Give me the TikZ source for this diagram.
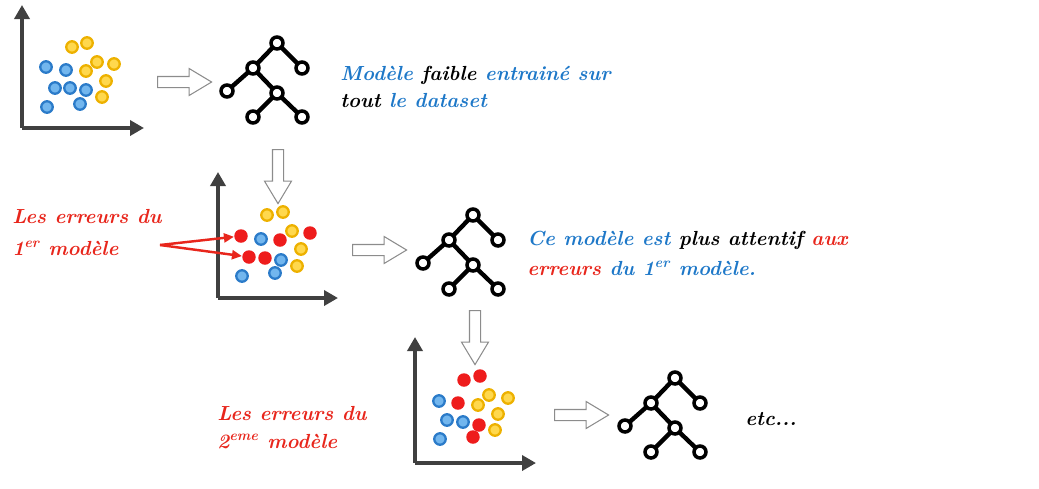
\documentclass[tikz,border=0pt]{standalone}
\usetikzlibrary{arrows.meta,shapes.arrows}

\definecolor{ptblue}{HTML}{2B7BC9}
\definecolor{ptbluefill}{HTML}{72B6EE}
\definecolor{ptyellow}{HTML}{EDB100}
\definecolor{ptyellowfill}{HTML}{FFD84D}
\definecolor{ptred}{HTML}{EE1C1C}
\definecolor{txtblue}{HTML}{1E78C8}
\definecolor{txtred}{HTML}{E8261C}
\definecolor{axisgray}{HTML}{404040}
\definecolor{hollowgray}{HTML}{8C8C8C}

\tikzset{
  bluept/.style={circle, draw=ptblue, fill=ptbluefill, line width=1.3pt, minimum size=0.23cm, inner sep=0pt},
  yellowpt/.style={circle, draw=ptyellow, fill=ptyellowfill, line width=1.3pt, minimum size=0.23cm, inner sep=0pt},
  redpt/.style={circle, fill=ptred, minimum size=0.27cm, inner sep=0pt},
  treenode/.style={circle, draw=black, fill=white, line width=2pt, minimum size=0.24cm, inner sep=0pt},
  treeedge/.style={line width=2.5pt},
  axis/.style={draw=axisgray, line width=2.3pt, -{Triangle[length=0.28cm, width=0.3cm]}},
  hollow/.style={single arrow, draw=hollowgray, fill=white, line width=0.6pt, inner sep=0.1cm,
    minimum height=1.08cm, single arrow head extend=0.16cm, single arrow tip angle=62},
  script/.style={font=\fontsize{11.6}{14}\selectfont\itshape\bfseries, anchor=base west, inner sep=0pt},
  errarrow/.style={draw=txtred, line width=1.4pt, -{Triangle[length=0.2cm, width=0.18cm]}}
}

% small decision tree: prefix, x, y of the root
\newcommand{\drawtree}[3]{
  \begin{scope}[shift={(#2,#3)}]
    \draw[treeedge] (0,0) -- (-24,25) (0,0) -- (25,25) (-24,25) -- (-50,48) (-24,25) -- (0,50)
      (0,50) -- (-24,74) (0,50) -- (25,74);
    \node[treenode] (#1r) at (0,0) {};
    \node[treenode] (#1l) at (-24,25) {};
    \node[treenode] (#1rr) at (25,25) {};
    \node[treenode] (#1ll) at (-50,48) {};
    \node[treenode] (#1m) at (0,50) {};
    \node[treenode] (#1bl) at (-24,74) {};
    \node[treenode] (#1br) at (25,74) {};
  \end{scope}
}

\begin{document}
\begin{tikzpicture}[x=0.02cm, y=-0.02cm]
  \useasboundingbox (0,0) rectangle (1039,488);

  % first model
  \coordinate (o1) at (22,128);
  \coordinate (ytop1) at (22,5);
  \coordinate (xend1) at (144,128);
  \draw[axis] (o1) -- (ytop1);
  \draw[axis] (o1) -- (xend1);
  \foreach \x/\y [count=\i] in {72/47, 87/43, 97/62, 114/64, 86/71, 106/81, 102/97}
    \node[yellowpt] (a-y\i) at (\x,\y) {};
  \foreach \x/\y [count=\i] in {46/67, 66/70, 55/88, 70/88, 86/90, 80/104, 47/107}
    \node[bluept] (a-b\i) at (\x,\y) {};

  \node[hollow] (h1) at (180,82) {};
  \drawtree{t1}{277}{43}

  \node[script] (txt1a) at (340,80) {\textcolor{txtblue}{Modèle} faible \textcolor{txtblue}{entrainé sur}};
  \node[script] (txt1b) at (340,107) {tout \textcolor{txtblue}{le dataset}};

  \node[hollow, shape border rotate=270] (v1) at (278,172) {};

  % second model
  \coordinate (o2) at (218,298);
  \coordinate (ytop2) at (218,172);
  \coordinate (xend2) at (338,298);
  \draw[axis] (o2) -- (ytop2);
  \draw[axis] (o2) -- (xend2);
  \foreach \x/\y [count=\i] in {267/215, 283/212, 292/231, 301/249, 297/266}
    \node[yellowpt] (b-y\i) at (\x,\y) {};
  \foreach \x/\y [count=\i] in {261/239, 281/260, 275/273, 242/276}
    \node[bluept] (b-b\i) at (\x,\y) {};
  \foreach \x/\y [count=\i] in {241/236, 280/240, 310/233, 249/257, 265/258}
    \node[redpt] (b-r\i) at (\x,\y) {};

  \node[script, text=txtred] (err1a) at (12,223) {Les erreurs du};
  \node[script, text=txtred] (err1b) at (12,255) {1\textsuperscript{er} modèle};
  \coordinate (errstart) at (160,245);
  \draw[errarrow] (errstart) -- (b-r1);
  \draw[errarrow] (errstart) -- (b-r4);

  \node[hollow] (h2) at (375,250) {};
  \drawtree{t2}{473}{215}

  \node[script] (txt2a) at (527,245) {\textcolor{txtblue}{Ce modèle est} plus attentif \textcolor{txtred}{aux}};
  \node[script] (txt2b) at (527,275) {\textcolor{txtred}{erreurs} \textcolor{txtblue}{du 1\textsuperscript{er} modèle.}};

  \node[hollow, shape border rotate=270] (v2) at (475,333) {};

  % third model
  \coordinate (o3) at (415,463);
  \coordinate (ytop3) at (415,337);
  \coordinate (xend3) at (536,463);
  \draw[axis] (o3) -- (ytop3);
  \draw[axis] (o3) -- (xend3);
  \foreach \x/\y [count=\i] in {464/380, 480/376, 458/403, 479/425, 473/437}
    \node[redpt] (c-r\i) at (\x,\y) {};
  \foreach \x/\y [count=\i] in {439/401, 447/420, 463/422, 440/439}
    \node[bluept] (c-b\i) at (\x,\y) {};
  \foreach \x/\y [count=\i] in {489/395, 478/405, 508/398, 498/414, 495/430}
    \node[yellowpt] (c-y\i) at (\x,\y) {};

  \node[script, text=txtred] (err2a) at (217,420) {Les erreurs du};
  \node[script, text=txtred] (err2b) at (217,448) {2\textsuperscript{eme} modèle};

  \node[hollow] (h3) at (577,415) {};
  \drawtree{t3}{675}{378}

  \node[script] (etc) at (745,425) {etc...};
\end{tikzpicture}
\end{document}
